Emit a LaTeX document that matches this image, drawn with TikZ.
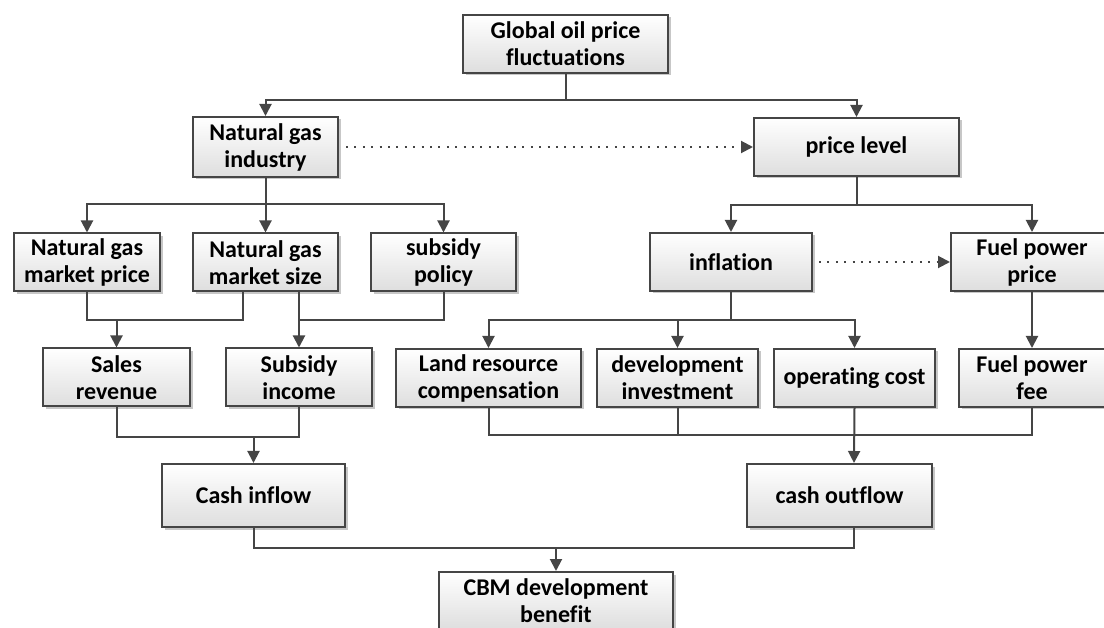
\documentclass[tikz,border=0pt]{standalone}
\usepackage{fontspec}
\setmainfont{Carlito}[Ligatures=NoCommon]
\usepackage{tikz}
\usetikzlibrary{arrows.meta, shadows}

\definecolor{edgegray}{HTML}{454545}

\begin{document}
\begin{tikzpicture}[x=1pt,y=-1pt,->,>={Triangle[length=12pt,width=12pt]},
        line width=2pt, draw=edgegray, color=edgegray,
        box/.style={draw=edgegray,line width=2pt,rectangle,align=center,
          top color=white,bottom color=black!13,text=black,
          minimum height=58pt,inner sep=1pt,
          font=\fontsize{24}{27}\selectfont\bfseries,
          drop shadow={shadow xshift=2.5pt,shadow yshift=-2.5pt,fill=black,opacity=0.22}},
        dotline/.style={dash pattern=on 2pt off 6.4pt,line width=2pt}]

        \useasboundingbox (0,0) rectangle (1104,628);

        \node at (565.5,44) [box,minimum width=205pt] (glob) {Global oil price\\fluctuations};
        \node at (265.5,147) [box,minimum width=145pt,minimum height=60pt] (ngi) {Natural gas\\industry};
        \node at (856.5,147) [box,minimum width=205pt] (plev) {price level};

        \node at (87,262.5) [box,minimum width=146pt] (nmp) {Natural gas\\market price};
        \node at (265.5,262.5) [box,minimum width=145pt] (nms) {Natural gas\\market size};
        \node at (443.5,262.5) [box,minimum width=145pt] (sp) {subsidy\\policy};
        \node at (731,262) [box,minimum width=162pt] (infl) {inflation};
        \node at (1032,262) [box,minimum width=162pt] (fpp) {Fuel power\\price};

        \node at (116.5,377.5) [box,minimum width=147pt] (sr) {Sales\\revenue};
        \node at (299,377.5) [box,minimum width=146pt] (si) {Subsidy\\income};
        \node at (488.5,378) [box,minimum width=185pt] (lrc) {Land resource\\compensation};
        \node at (677.5,378) [box,minimum width=161pt] (dinv) {development\\investment};
        \node at (854.5,378) [box,minimum width=161pt] (opc) {operating cost};
        \node at (1032,378) [box,minimum width=146pt] (fpf) {Fuel power\\fee};

        \node at (253.5,495.5) [box,minimum width=183pt,minimum height=63pt] (cin) {Cash inflow};
        \node at (839.5,495.5) [box,minimum width=185pt,minimum height=63pt] (cout) {cash outflow};
        \node at (556,601) [box,minimum width=234pt] (cbm) {CBM development\\benefit};

        \coordinate (srin) at (116.5,320);
        \coordinate (siin) at (299,320);
        \coordinate (cinin) at (253.5,437);
        \coordinate (cbmin) at (556,547);

        % top level
        \draw (glob.south) -- ++(0,26) -| (ngi.north);
        \draw (glob.south) -- ++(0,26) -| (plev.north);
        \draw[dotline] ([xshift=7pt]ngi.east) -- (plev.west);

        % natural gas side
        \draw (ngi.south) -- ++(0,26) -| (nmp.north);
        \draw (ngi.south) -- (nms.north);
        \draw (ngi.south) -- ++(0,26) -| (sp.north);
        \draw[-] (nmp.south) |- (srin) -| ([xshift=-22.5pt]nms.south);
        \draw (srin) -- (sr.north);
        \draw ([xshift=33.5pt]nms.south) -- (si.north);
        \draw[-] (sp.south) |- (siin);
        \draw[-] (sr.south) -- ++(0,30) -| (si.south);
        \draw (cinin) -- (cin.north);

        % price side
        \draw (plev.south) -- ++(0,28) -| (infl.north);
        \draw (plev.south) -- ++(0,28) -| (fpp.north);
        \draw[dotline] ([xshift=6pt]infl.east) -- (fpp.west);
        \draw (infl.south) -- ++(0,28) -| (lrc.north);
        \draw (infl.south) -- ++(0,28) -| (dinv.north);
        \draw (infl.south) -- ++(0,28) -| (opc.north);
        \draw (fpp.south) -- (fpf.north);
        \draw[-] (lrc.south) -- ++(0,27) -| (fpf.south);
        \draw[-] (dinv.south) -- ++(0,27);
        \draw (opc.south) -- ([xshift=14.5pt]cout.north);

        % benefit
        \draw[-] (cin.south) -- ++(0,20) -| ([xshift=14.5pt]cout.south);
        \draw (cbmin) -- (cbm.north);

      \end{tikzpicture}
\end{document}
